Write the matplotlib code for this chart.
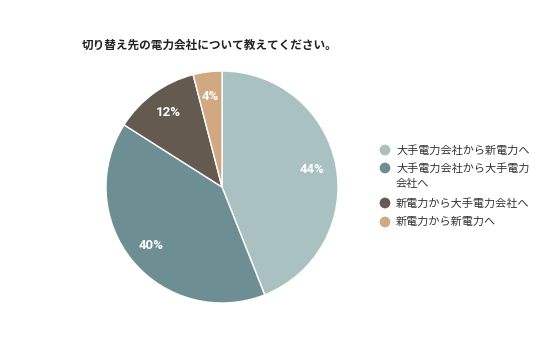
import matplotlib.pyplot as plt

plt.rcParams['font.family'] = ['Noto Sans CJK JP', 'DejaVu Sans']

# Data
labels = ['大手電力会社から新電力へ', '大手電力会社から大手電力\n会社へ',
          '新電力から大手電力会社へ', '新電力から新電力へ']
values = [44, 40, 12, 4]
colors = ['#a9c2c1', '#6d8f94', '#655a50', '#d2a882']

W, H = 536, 357
fig = plt.figure(figsize=(W / 100, H / 100), dpi=100)

# Pie
cx, cy, r = 222, 187, 116
ax = fig.add_axes([(cx - r) / W, (H - cy - r) / H, 2 * r / W, 2 * r / H])
wedges, texts, autotexts = ax.pie(
    values, colors=colors, startangle=90, counterclock=False,
    autopct='%d%%', pctdistance=0.79, radius=1,
    wedgeprops=dict(edgecolor='white', linewidth=1))
for t in autotexts:
    t.set_color('white')
    t.set_fontsize(9.5)
    t.set_fontweight('bold')
    t.set_family('Roboto')
ax.set_xlim(-1, 1)
ax.set_ylim(-1, 1)
ax.set_aspect('equal')
ax.axis('off')

# Title
fig.text(82 / W, 1 - 45 / H, '切り替え先の電力会社について教えてください。',
         fontsize=8.4, fontweight='bold', va='center', ha='left', color='#222222')

# Legend (laid out in pixel coords on an overlay axes)
lg = fig.add_axes([0, 0, 1, 1])
lg.set_xlim(0, W)
lg.set_ylim(H, 0)
lg.axis('off')
row_y = [150, 168, 203, 222]
for y, lab, c in zip(row_y, labels, colors):
    lg.scatter([385], [y], s=60, color=c, edgecolors='none')
    for i, line in enumerate(lab.split('\n')):
        lg.text(396, y + i * 16, line, fontsize=8.0, va='center', ha='left',
                color='#333333')

plt.savefig('out.png', dpi=100)
